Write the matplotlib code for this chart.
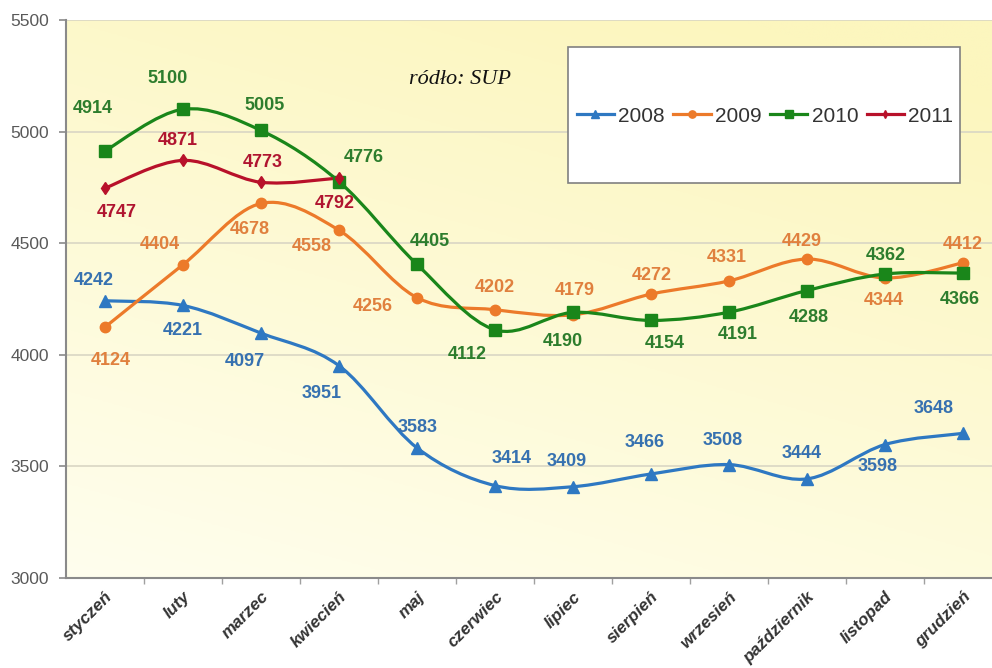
import numpy as np
import matplotlib.pyplot as plt
from matplotlib.path import Path
from matplotlib.patches import PathPatch, Rectangle
from matplotlib.lines import Line2D

plt.rcParams['font.family'] = ['Liberation Sans', 'DejaVu Sans']

# dane z wykresu
miesiace = ["styczeń", "luty", "marzec", "kwiecień", "maj", "czerwiec", "lipiec",
            "sierpień", "wrzesień", "październik", "listopad", "grudzień"]
lata = ["2008", "2009", "2010", "2011"]
v2008 = [4242, 4221, 4097, 3951, 3583, 3414, 3409, 3466, 3508, 3444, 3598, 3648]
v2009 = [4124, 4404, 4678, 4558, 4256, 4202, 4179, 4272, 4331, 4429, 4344, 4412]
v2010 = [4914, 5100, 5005, 4776, 4405, 4112, 4190, 4154, 4191, 4288, 4362, 4366]
v2011 = [4747, 4871, 4773, 4792]

# przesuniecia etykiet w pikselach (dx, dy w gore)
off2008 = [(-11, 20), (0, -25), (-16, -28), (-17, -28), (1, 20), (17, 27), (-6, 25),
           (-6, 31), (-6, 24), (-5, 25), (-7, -22), (-29, 25)]
off2009 = [(6, -33), (-23, 20), (-11, -26), (-27, -16), (-44, -9), (0, 22), (2, 24),
           (1, 19), (-2, 23), (-5, 18), (-1, -22), (0, 18)]
off2010 = [(-12, 42), (-15, 31), (4, 25), (25, 24), (13, 23), (-28, -25), (-10, -29),
           (14, -23), (9, -22), (2, -27), (1, 19), (-3, -26)]
off2011 = [(12, -24), (-5, 20), (2, 20), (-4, -25)]

serie = [v2008, v2009, v2010, v2011]
przes = [off2008, off2009, off2010, off2011]
kolory = ["#2e78c2", "#ec7a2a", "#1a861a", "#b8112a"]
kolory_et = ["#3671b0", "#e0803e", "#2d7d2d", "#b01530"]
markery = ["^", "o", "s", "d"]
rozm = [8, 7.5, 8, 6]


def gladka_sciezka(x, y):
    # wygladzanie jak w Excelu (krzywe Beziera)
    pts = np.column_stack([x, y]).astype(float)
    pad = np.vstack([pts[0], pts, pts[-1]])
    verts = [pts[0]]
    codes = [Path.MOVETO]
    for i in range(len(pts) - 1):
        p0, p1, p2, p3 = pad[i], pad[i + 1], pad[i + 2], pad[i + 3]
        verts += [p1 + (p2 - p0) / 6, p2 - (p3 - p1) / 6, p2]
        codes += [Path.CURVE4] * 3
    return Path(verts, codes)


fig = plt.figure(figsize=(9.92, 6.68), dpi=100)
ax = fig.add_axes([66 / 992, 90 / 668, 936 / 992, 558 / 668])

# tlo z gradientem
gx, gy = np.meshgrid(np.linspace(0, 1, 200), np.linspace(0, 1, 200))
t = np.clip(0.75 * gy + 0.35 * gx, 0, 1)
c_gora = np.array([255, 254, 238]) / 255
c_dol = np.array([252, 246, 190]) / 255
grad = c_gora[None, None, :] * (1 - t[..., None]) + c_dol[None, None, :] * t[..., None]
ax.imshow(grad, extent=(-0.5, 11.5, 5500, 3000), aspect='auto', zorder=0, origin='upper')

x = np.arange(len(miesiace))
for s, o, k, ke, m, r in zip(serie, przes, kolory, kolory_et, markery, rozm):
    xs = x[:len(s)]
    ax.add_patch(PathPatch(gladka_sciezka(xs, s), fill=False, edgecolor=k, lw=2.3, zorder=3))
    ax.plot(xs, s, linestyle='none', marker=m, markersize=r, color=k, zorder=4)
    for xi, yi, (dx, dy) in zip(xs, s, o):
        ax.annotate(str(yi), (xi, yi), xytext=(dx, dy), textcoords='offset pixels',
                    ha='center', va='center', fontsize=13, fontweight='bold', color=ke, zorder=6)

ax.set_xlim(-0.5, 11.5)
ax.set_ylim(3000, 5500)
ax.set_yticks(np.arange(3000, 5501, 500))
ax.yaxis.grid(True, color='#d9d6c4', lw=1.2)
ax.set_axisbelow(True)
ax.tick_params(axis='y', colors='#8a8a8a', labelcolor='#595959', labelsize=12.5, length=5, width=1.2, pad=7)

ax.set_xticks(x)
ax.set_xticklabels(miesiace, rotation=45, ha='right', rotation_mode='anchor',
                   fontsize=12.3, fontweight='bold', fontstyle='italic', color='#333333')
ax.set_xticks(x[:-1] + 0.5, minor=True)
ax.tick_params(axis='x', which='major', length=0, pad=8)
ax.tick_params(axis='x', which='minor', length=4, width=1.0, colors='#a0a0a0')

for sp in ['top', 'right']:
    ax.spines[sp].set_visible(False)
for sp in ['left', 'bottom']:
    ax.spines[sp].set_color('#8a8a8a')
    ax.spines[sp].set_linewidth(1.5)

# legenda w ramce
ax.add_patch(Rectangle((568 / 992, 1 - 183 / 668), 392 / 992, 136 / 668, transform=fig.transFigure,
                       facecolor='white', edgecolor='#808080', lw=1.2, clip_on=False, zorder=7))
uchwyty = [Line2D([], [], color=k, lw=2.3, marker=m, markersize=r * 0.7) for k, m, r in zip(kolory, markery, rozm)]
leg = ax.legend(uchwyty, lata, loc='center', bbox_to_anchor=(765 / 992, 1 - 116 / 668),
                bbox_transform=fig.transFigure, ncol=4, frameon=False, fontsize=15,
                handlelength=1.8, handletextpad=0.2, columnspacing=0.4, labelcolor='#333333')
leg.set_zorder(8)

fig.text(460 / 992, 1 - 80 / 668, "ródło: SUP", ha='center', va='center', fontsize=16,
         fontstyle='italic', family=['Liberation Serif', 'DejaVu Serif'], color='#111111')

fig.savefig("out.png", dpi=100)
